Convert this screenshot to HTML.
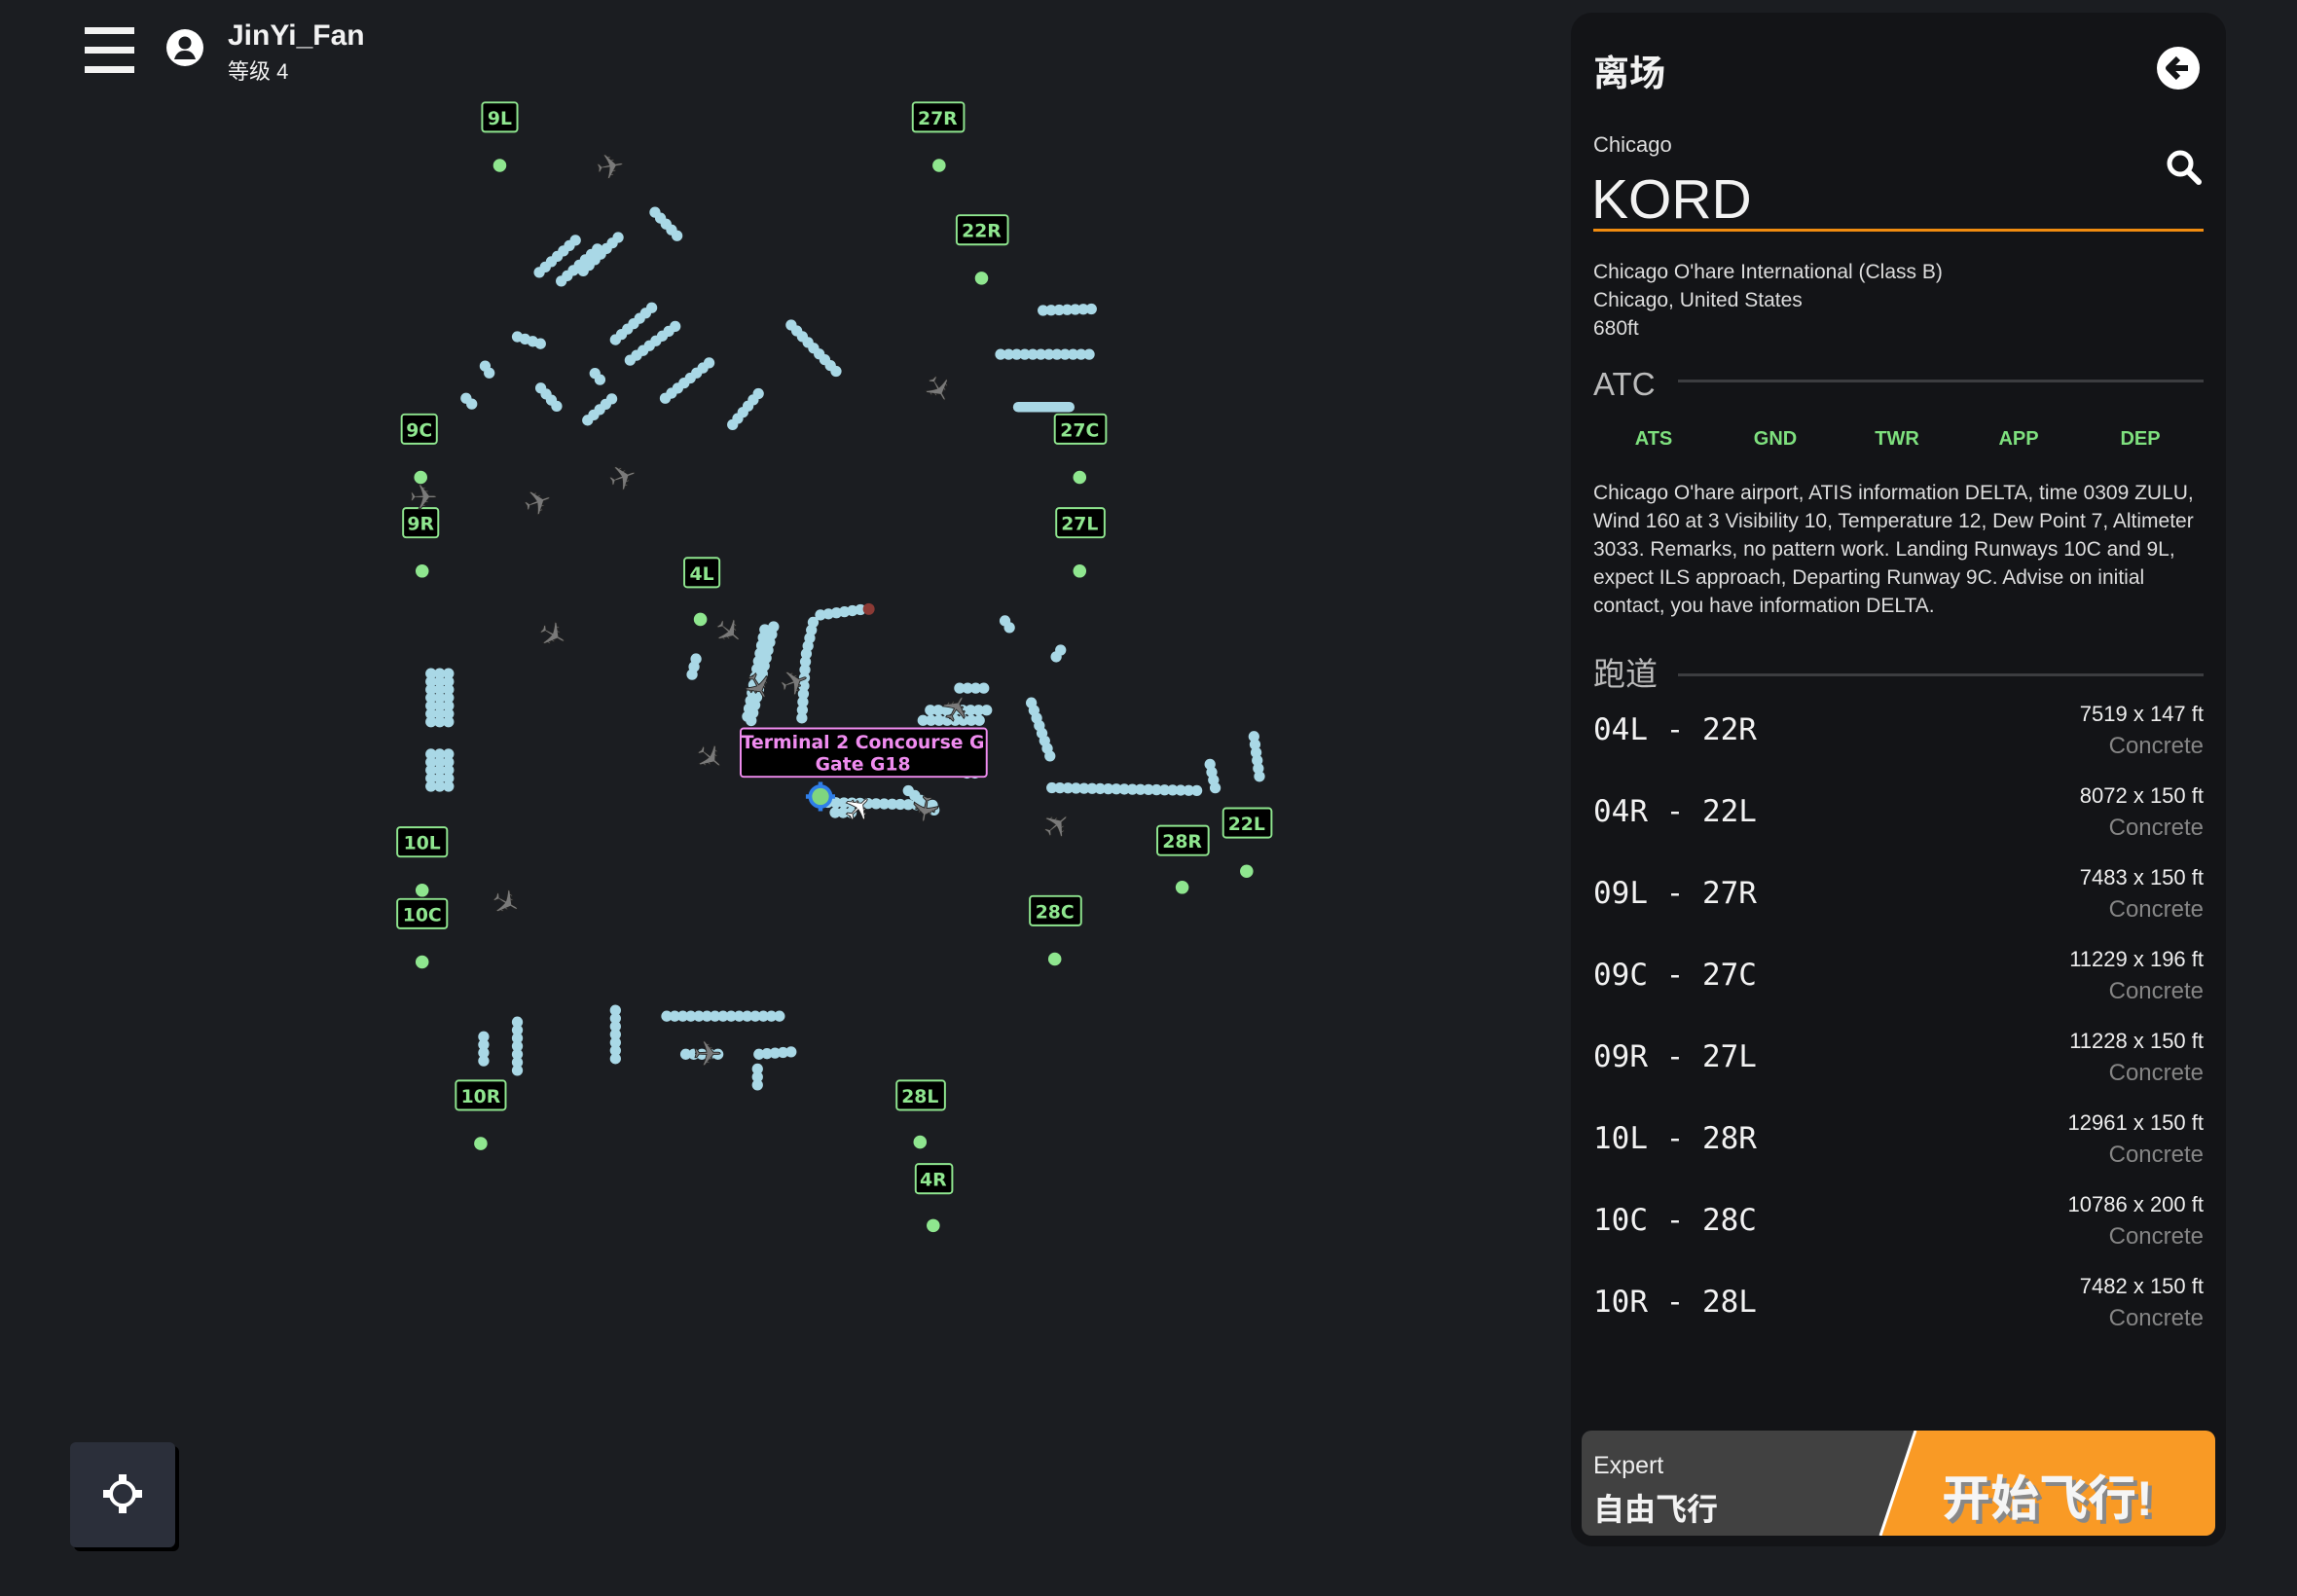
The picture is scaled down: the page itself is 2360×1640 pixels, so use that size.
<!DOCTYPE html>
<html><head><meta charset="utf-8"><style>
*{margin:0;padding:0;box-sizing:border-box}
body{width:2360px;height:1640px;background:#1b1d21;position:relative;overflow:hidden;font-family:"Liberation Sans","Noto Sans CJK SC",sans-serif;color:#eee}
.a{position:absolute;white-space:nowrap}
#panel{position:absolute;left:1614px;top:13px;width:673px;height:1576px;background:#131417;border-radius:22px}
.rw{position:absolute;left:1637px;font-family:"DejaVu Sans Mono",monospace;font-size:31px;color:#f2f2f2;line-height:1}
.dim{position:absolute;right:96px;font-size:22px;color:#eee;line-height:1;text-align:right}
.con{position:absolute;right:96px;font-size:24px;color:#858585;line-height:1;text-align:right}
.tab{position:absolute;top:440px;font-size:20px;font-weight:bold;color:#7ee07e;transform:translateX(-50%)}
</style></head><body>
<svg class="a" style="left:0;top:0" width="2360" height="1640" viewBox="0 0 1568 1090">
<g stroke="#a9d8e6" stroke-width="7.5" stroke-linecap="round" stroke-dasharray="0 5.5" fill="none">
<path d="M368 186L395 162M383 192L410 168M398 185L422 162M447 145L463 162M420 232L445 210M430 246L462 222M353 230L373 236M331 250L334 255M318 272L325 279M369 265L383 281M406 255L410 260M401 287L418 272M454 272L485 247M500 290L520 266M540 222L572 255"/>
<path d="M712 212L745 211M683 242L745 242"/>
<path d="M294 460L294 498M300 460L300 498M306 460L306 498M294 515L294 540M300 515L300 540M306 515L306 540"/>
<path d="M528 428L512 495M522 430L510 490M555 425L550 448L547 495M560 420L590 416M475 450L471 466M686 424L690 430M724 444L720 450"/>
<path d="M655 470L675 470M635 485L675 485M630 492L672 492M660 528L670 528M565 548L640 550M570 555L585 555M620 540L640 555"/>
<path d="M704 480L718 520M718 538L820 540M826 522L830 540M856 503L860 532"/>
<path d="M330 708L330 726M353 698L353 732M420 690L420 728M455 694L535 694M468 720L495 720M518 720L545 718M517 730L517 744"/>
</g>
<path d="M695 278L730 278" stroke="#a9d8e6" stroke-width="7" stroke-linecap="round"/>
<circle cx="593" cy="416" r="4" fill="#8b3a35"/>
<g fill="#8fe68f">
<circle cx="341" cy="113" r="4.5"/><circle cx="641" cy="113" r="4.5"/><circle cx="670" cy="190" r="4.5"/><circle cx="287" cy="326" r="4.5"/><circle cx="737" cy="326" r="4.5"/><circle cx="288" cy="390" r="4.5"/><circle cx="737" cy="390" r="4.5"/><circle cx="478" cy="423" r="4.5"/><circle cx="288" cy="608" r="4.5"/><circle cx="288" cy="657" r="4.5"/><circle cx="720" cy="655" r="4.5"/><circle cx="807" cy="606" r="4.5"/><circle cx="851" cy="595" r="4.5"/><circle cx="328" cy="781" r="4.5"/><circle cx="628" cy="780" r="4.5"/><circle cx="637" cy="837" r="4.5"/>
</g>
<g font-family="DejaVu Sans" font-weight="bold" font-size="12.5" fill="#8fe68f" text-anchor="middle">
<g stroke="#8fe68f" stroke-width="1.3" fill="#000">
<rect x="329" y="70" width="24" height="20" rx="2"/><rect x="623" y="70" width="35" height="20" rx="2"/><rect x="653" y="147" width="35" height="20" rx="2"/><rect x="274" y="283" width="24" height="20" rx="2"/><rect x="720" y="283" width="35" height="20" rx="2"/><rect x="275" y="347" width="24" height="20" rx="2"/><rect x="721" y="347" width="33" height="20" rx="2"/><rect x="467" y="381" width="24" height="20" rx="2"/><rect x="271" y="565" width="34" height="20" rx="2"/><rect x="271" y="614" width="34" height="20" rx="2"/><rect x="703" y="612" width="35" height="20" rx="2"/><rect x="790" y="564" width="35" height="20" rx="2"/><rect x="835" y="552" width="33" height="20" rx="2"/><rect x="311" y="738" width="34" height="20" rx="2"/><rect x="612" y="738" width="33" height="20" rx="2"/><rect x="625" y="795" width="25" height="20" rx="2"/>
</g>
<text x="341" y="85">9L</text><text x="640" y="85">27R</text><text x="670" y="162">22R</text><text x="286" y="298">9C</text><text x="737" y="298">27C</text><text x="287" y="362">9R</text><text x="737" y="362">27L</text><text x="479" y="396">4L</text><text x="288" y="580">10L</text><text x="288" y="629">10C</text><text x="720" y="627">28C</text><text x="807" y="579">28R</text><text x="851" y="567">22L</text><text x="328" y="753">10R</text><text x="628" y="753">28L</text><text x="637" y="810">4R</text>
</g>
<g font-family="DejaVu Sans" font-size="24" fill="#7a7a7a" stroke="#222" stroke-width="0.6" text-anchor="middle">
<text transform="translate(418,122) rotate(-10)">✈</text>
<text transform="translate(633,270) rotate(60)">✈</text>
<text transform="translate(289,348) rotate(0)">✈</text>
<text transform="translate(370,351) rotate(-20)">✈</text>
<text transform="translate(428,334) rotate(-20)">✈</text>
<text transform="translate(373,441) rotate(30)">✈</text>
<text transform="translate(492,438) rotate(40)">✈</text>
<text transform="translate(510,473) rotate(60)">✈</text>
<text transform="translate(545,474) rotate(-20)">✈</text>
<text transform="translate(479,524) rotate(40)">✈</text>
<text transform="translate(660,488) rotate(-60)">✈</text>
<text transform="translate(727,570) rotate(-40)">✈</text>
<text transform="translate(341,624) rotate(30)">✈</text>
<text transform="translate(483,728) rotate(0)">✈</text>
<text transform="translate(623,551) rotate(100)">✈</text>
<text transform="translate(592,558) rotate(-45)" fill="#fff">✈</text>
</g>
<rect x="505.5" y="497.5" width="168" height="33" rx="2" fill="#000" stroke="#f08cf0" stroke-width="1.3"/>
<g font-family="DejaVu Sans" font-weight="bold" font-size="12.5" fill="#f08cf0" text-anchor="middle"><text x="589" y="511">Terminal 2 Concourse G</text><text x="589" y="526">Gate G18</text></g>
<circle cx="560" cy="544" r="7" fill="#7fd67f" stroke="#2f7ee8" stroke-width="2.5"/>
<path d="M560 534v3M560 551v3M550 544h3M567 544h3" stroke="#2f7ee8" stroke-width="3"/>
</svg>

<div class="a" style="left:87px;top:28px;width:51px;height:7px;background:#f2f2f2"></div>
<div class="a" style="left:87px;top:48px;width:51px;height:7px;background:#f2f2f2"></div>
<div class="a" style="left:87px;top:68px;width:51px;height:7px;background:#f2f2f2"></div>
<svg class="a" style="left:170px;top:29px" width="40" height="40" viewBox="0 0 40 40"><circle cx="20" cy="20" r="19" fill="#fff"/><circle cx="20" cy="15" r="6.5" fill="#1b1d21"/><path d="M9 32c2-7 6-9 11-9s9 2 11 9" fill="#1b1d21"/></svg>
<div class="a" style="left:234px;top:20px;font-size:30px;font-weight:bold;color:#f2f2f2">JinYi_Fan</div>
<div class="a" style="left:234px;top:56px;font-size:22px;color:#f2f2f2">等级 4</div>

<div class="a" style="left:76px;top:1486px;width:108px;height:108px;background:#000;border-radius:6px"></div>
<div class="a" style="left:72px;top:1482px;width:108px;height:108px;background:#2b2f3a;border-radius:6px"></div>
<svg class="a" style="left:104px;top:1513px" width="45" height="45" viewBox="0 0 45 45"><circle cx="22" cy="22" r="12" fill="none" stroke="#fff" stroke-width="4"/><rect x="18" y="2" width="8" height="10" fill="#fff"/><rect x="18" y="32" width="8" height="10" fill="#fff"/><rect x="2" y="18" width="10" height="8" fill="#fff"/><rect x="32" y="18" width="10" height="8" fill="#fff"/></svg>

<div id="panel"></div>
<div class="a" style="left:1637px;top:45px;font-size:37px;font-weight:bold;color:#f2f2f2">离场</div>
<svg class="a" style="left:2215px;top:47px" width="46" height="46" viewBox="0 0 46 46"><circle cx="23" cy="23" r="22" fill="#fff"/><path d="M33 23H15M23 13l-10 10 10 10" stroke="#131417" stroke-width="6" fill="none" stroke-linejoin="round"/></svg>
<div class="a" style="left:1637px;top:136px;font-size:22px;color:#ddd">Chicago</div>
<div class="a" style="left:1635px;top:172px;font-size:57px;color:#f2f2f2">KORD</div>
<svg class="a" style="left:2224px;top:152px" width="40" height="40" viewBox="0 0 40 40"><circle cx="16" cy="16" r="11" fill="none" stroke="#fff" stroke-width="5"/><path d="M24 24l11 11" stroke="#fff" stroke-width="6" stroke-linecap="round"/></svg>
<div class="a" style="left:1637px;top:235px;width:627px;height:3px;background:#f08c10"></div>
<div class="a" style="left:1637px;top:265px;font-size:21px;line-height:29px;color:#ddd">Chicago O'hare International (Class B)<br>Chicago, United States<br>680ft</div>
<div class="a" style="left:1637px;top:376px;font-size:33px;color:#bbb">ATC</div>
<div class="a" style="left:1724px;top:390px;width:540px;height:3px;background:#3c3d40"></div>
<div class="tab" style="left:1699px">ATS</div><div class="tab" style="left:1824px">GND</div><div class="tab" style="left:1949px">TWR</div><div class="tab" style="left:2074px">APP</div><div class="tab" style="left:2199px">DEP</div>
<div class="a" style="left:1637px;top:492px;font-size:21px;line-height:29px;color:#ddd">Chicago O'hare airport, ATIS information DELTA, time 0309 ZULU,<br>Wind 160 at 3 Visibility 10, Temperature 12, Dew Point 7, Altimeter<br>3033. Remarks, no pattern work. Landing Runways 10C and 9L,<br>expect ILS approach, Departing Runway 9C. Advise on initial<br>contact, you have information DELTA.</div>
<div class="a" style="left:1637px;top:666px;font-size:33px;color:#bbb">跑道</div>
<div class="a" style="left:1724px;top:692px;width:540px;height:3px;background:#3c3d40"></div>

<div class="rw" style="top:735px">04L - 22R</div><div class="dim" style="top:723px">7519 x 147 ft</div><div class="con" style="top:755px">Concrete</div>
<div class="rw" style="top:819px">04R - 22L</div><div class="dim" style="top:807px">8072 x 150 ft</div><div class="con" style="top:839px">Concrete</div>
<div class="rw" style="top:903px">09L - 27R</div><div class="dim" style="top:891px">7483 x 150 ft</div><div class="con" style="top:923px">Concrete</div>
<div class="rw" style="top:987px">09C - 27C</div><div class="dim" style="top:975px">11229 x 196 ft</div><div class="con" style="top:1007px">Concrete</div>
<div class="rw" style="top:1071px">09R - 27L</div><div class="dim" style="top:1059px">11228 x 150 ft</div><div class="con" style="top:1091px">Concrete</div>
<div class="rw" style="top:1155px">10L - 28R</div><div class="dim" style="top:1143px">12961 x 150 ft</div><div class="con" style="top:1175px">Concrete</div>
<div class="rw" style="top:1239px">10C - 28C</div><div class="dim" style="top:1227px">10786 x 200 ft</div><div class="con" style="top:1259px">Concrete</div>
<div class="rw" style="top:1323px">10R - 28L</div><div class="dim" style="top:1311px">7482 x 150 ft</div><div class="con" style="top:1343px">Concrete</div>

<svg class="a" style="left:1625px;top:1470px" width="651" height="108" viewBox="0 0 651 108">
<defs><clipPath id="c"><rect width="651" height="108" rx="10"/></clipPath></defs>
<g clip-path="url(#c)"><rect width="651" height="108" fill="#414141"/><path d="M343 0H651V108H307Z" fill="#f99a25"/><path d="M343 0L307 108" stroke="#fff" stroke-width="3"/></g>
</svg>
<div class="a" style="left:1637px;top:1492px;font-size:25px;color:#eee">Expert</div>
<div class="a" style="left:1637px;top:1526px;font-size:32px;font-weight:bold;color:#f2f2f2">自由飞行</div>
<div class="a" style="left:1995px;top:1500px;font-size:50px;font-weight:bold;color:#f5f5f5;text-shadow:4px 4px 0 #888">开始飞行!</div>
</body></html>
